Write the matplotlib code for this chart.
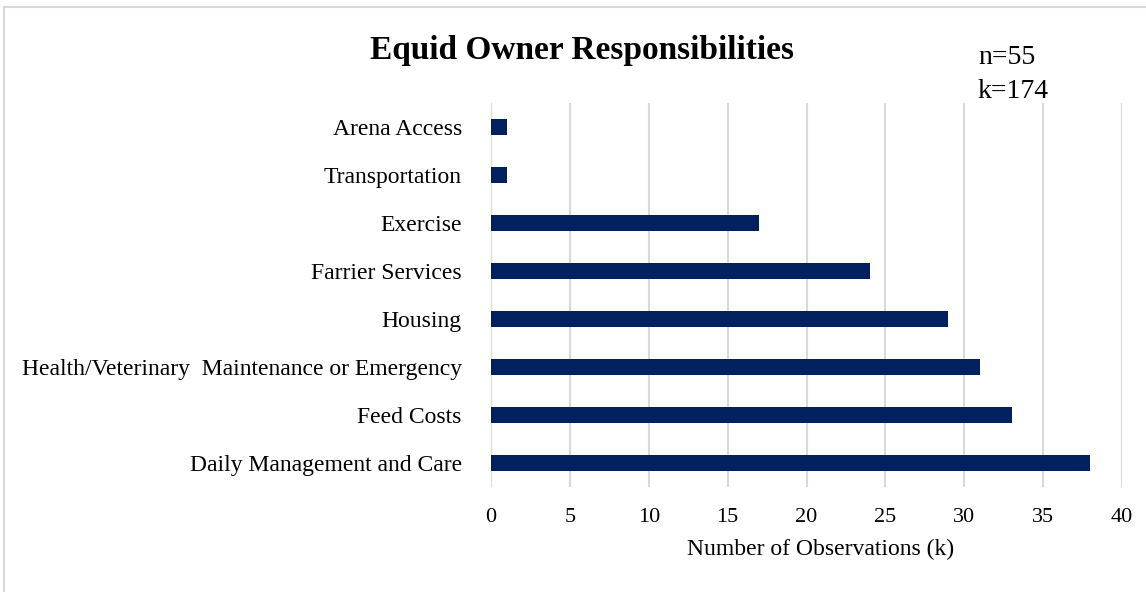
import matplotlib
matplotlib.use("Agg")
import matplotlib.pyplot as plt
from matplotlib.patches import Rectangle

categories = ["Daily Management and Care", "Feed Costs",
              "Health/Veterinary  Maintenance or Emergency", "Housing",
              "Farrier Services", "Exercise", "Transportation", "Arena Access"]
counts = [38, 33, 31, 29, 24, 17, 1, 1]
x_ticks = [0, 5, 10, 15, 20, 25, 30, 35, 40]

plt.rcParams['font.family'] = ['Liberation Serif', 'DejaVu Serif']

fig = plt.figure(figsize=(11.46, 5.92), dpi=100)
fig.patches.append(Rectangle((4 / 1146, -0.1), 1.2, (592 - 7) / 592 + 0.1,
                             transform=fig.transFigure, fill=False,
                             edgecolor='#d9d9d9', linewidth=1.5))

ax = fig.add_axes((491 / 1146, 1 - 487 / 592, 631 / 1146, 384 / 592))
ax.barh(range(len(categories)), counts, height=0.34, color='#002060', zorder=3)
ax.set_xlim(0, 40)
ax.set_ylim(-0.5, len(categories) - 0.5)
ax.set_xticks(x_ticks)
ax.set_yticks(range(len(categories)))
ax.set_yticklabels(categories, fontsize=17)
ax.tick_params(axis='x', labelsize=16, length=0, pad=15)
ax.tick_params(axis='y', length=0, pad=21)
ax.grid(axis='x', color='#d9d9d9', linewidth=1.5, zorder=0)
for s in ax.spines.values():
    s.set_visible(False)
ax.set_xlabel("Number of Observations (k)", fontsize=17, labelpad=10)
ax.xaxis.set_label_coords((821 - 491) / 631, -0.135)

fig.text(582 / 1146, 1 - 50 / 592, "Equid Owner Responsibilities",
         ha='center', va='center', fontsize=24, fontweight='bold')
fig.text(978 / 1146, 1 - 58 / 592, "n=55", ha='left', va='center', fontsize=20)
fig.text(978 / 1146, 1 - 91 / 592, "k=174", ha='left', va='center', fontsize=20)

fig.savefig("out.png", dpi=100)
